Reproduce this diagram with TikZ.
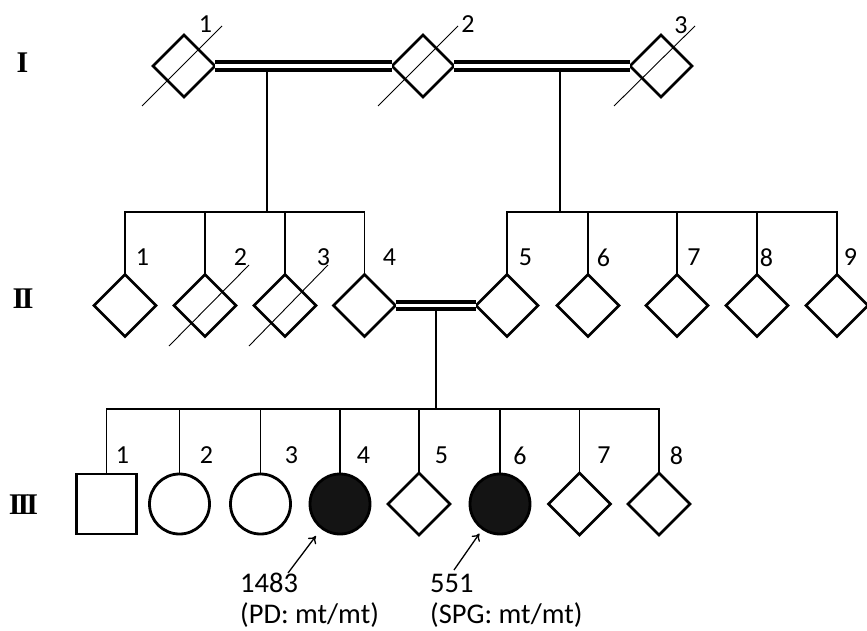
\documentclass[tikz,border=0pt]{standalone}
\usepackage{fontspec}
\setmainfont{Carlito}
\newfontfamily\romfont{Liberation Serif}
\usetikzlibrary{shapes.geometric,arrows.meta}
\begin{document}
\begin{tikzpicture}[x=1pt,y=-1pt,
 dia/.style={diamond,draw,line width=2.8pt,minimum width=62pt,minimum height=62pt,inner sep=0pt,outer sep=0pt,shape aspect=1},
 fem/.style={circle,draw,line width=2.8pt,minimum size=60pt,inner sep=0pt,outer sep=0pt},
 mal/.style={rectangle,draw,line width=2.6pt,minimum size=60pt,inner sep=0pt,outer sep=0pt},
 aff/.style={fill=black!92},
 conn/.style={line width=1.2pt},
 marr/.style={double,line width=4pt,double distance=3.5pt},
 slash/.style={line width=0.9pt},
 num/.style={font=\fontsize{26}{28}\selectfont,inner sep=0pt},
 gen/.style={font=\romfont\bfseries\fontsize{30}{32}\selectfont,inner sep=0pt},
 note/.style={font=\fontsize{28.5}{30}\selectfont,inner sep=0pt,anchor=base west},
 ptr/.style={line width=1.3pt,-{To[length=7pt,width=10pt]}}
]
\useasboundingbox (0,0) rectangle (867,631);

% generation labels
\node[gen] (gI) at (22.5,63) {I};
\node[gen] (gII) at (23,299) {I\kern-2.5pt I};
\node[gen] (gIII) at (23.5,505) {I\kern-3pt I\kern-3pt I};

% generation I
\node[dia] (i1) at (184,66) {};
\node[dia] (i2) at (423,66) {};
\node[dia] (i3) at (661,66) {};

% generation II
\node[dia] (ii1) at (125,305.5) {};
\node[dia] (ii2) at (205,305.5) {};
\node[dia] (ii3) at (285,305.5) {};
\node[dia] (ii4) at (364.5,305.5) {};
\node[dia] (ii5) at (507,305.5) {};
\node[dia] (ii6) at (588,305.5) {};
\node[dia] (ii7) at (677,305.5) {};
\node[dia] (ii8) at (757,305.5) {};
\node[dia] (ii9) at (837,305.5) {};

% generation III
\node[mal] (iii1) at (106.5,504) {};
\node[fem] (iii2) at (179.5,504) {};
\node[fem] (iii3) at (260.5,504) {};
\node[fem,aff] (iii4) at (340,504) {};
\node[dia] (iii5) at (419,504) {};
\node[fem,aff] (iii6) at (500,504) {};
\node[dia] (iii7) at (579.5,504) {};
\node[dia] (iii8) at (659,504) {};

% junction coordinates
\coordinate (m1) at (267,66);
\coordinate (j1) at (267,212);
\coordinate (m2) at (560,66);
\coordinate (j2) at (560,212);
\coordinate (m3) at (436,305.5);
\coordinate (j3) at (436,409);

% descent lines
\draw[conn] (m1) -- (j1);
\draw[conn] (m2) -- (j2);
\draw[conn] (m3) -- (j3);

% marriage lines
\draw[marr] (i1.east) -- (i2.west);
\draw[marr] (i2.east) -- (i3.west);
\draw[marr] (ii4.east) -- (ii5.west);

% sibship lines
\foreach \c in {ii1,ii2,ii3,ii4} \draw[conn] (j1) -| (\c.north);
\foreach \c in {ii5,ii6,ii7,ii8,ii9} \draw[conn] (j2) -| (\c.north);
\foreach \c in {iii1,iii2,iii3,iii4,iii5,iii6,iii7,iii8} \draw[conn] (j3) -| (\c.north);

% deceased slashes
\draw[slash] ([shift={(-42,40)}]i1.center) -- ([shift={(38,-40)}]i1.center);
\draw[slash] ([shift={(-45,40)}]i2.center) -- ([shift={(35,-40)}]i2.center);
\draw[slash] ([shift={(-47,40)}]i3.center) -- ([shift={(34,-40)}]i3.center);
\draw[slash] ([shift={(-36,40.5)}]ii2.center) -- ([shift={(44,-40.5)}]ii2.center);
\draw[slash] ([shift={(-36,40.5)}]ii3.center) -- ([shift={(43,-40.5)}]ii3.center);

% numbers
\node[num] (n-i1) at (205.5,24.5) {1};
\node[num] (n-i2) at (468,24.5) {2};
\node[num] (n-i3) at (681,25) {3};

\node[num] (n-ii1) at (142.5,257.5) {1};
\node[num] (n-ii2) at (240.5,257.5) {2};
\node[num] (n-ii3) at (323.5,257.5) {3};
\node[num] (n-ii4) at (389.5,257.5) {4};
\node[num] (n-ii5) at (525.5,257.5) {5};
\node[num] (n-ii6) at (603.5,257.5) {6};
\node[num] (n-ii7) at (694,257.5) {7};
\node[num] (n-ii8) at (766.5,257.5) {8};
\node[num] (n-ii9) at (850.5,257.5) {9};

\node[num] (n-iii1) at (122.5,455.5) {1};
\node[num] (n-iii2) at (206.5,455.5) {2};
\node[num] (n-iii3) at (291.5,455.5) {3};
\node[num] (n-iii4) at (363.5,455.5) {4};
\node[num] (n-iii5) at (441.5,455.5) {5};
\node[num] (n-iii6) at (520,455.5) {6};
\node[num] (n-iii7) at (604,455.5) {7};
\node[num] (n-iii8) at (676.5,455.5) {8};

% probands
\node[note] (p1a) at (240,592) {1483};
\node[note] (p1b) at (240,623) {(PD: mt/mt)};
\node[note] (p2a) at (430,592) {551};
\node[note] (p2b) at (430,623) {(SPG: mt/mt)};
\coordinate (t4) at (288,573);
\coordinate (t6) at (454,570);
\draw[ptr,shorten >=10pt] (t4) -- (iii4);
\draw[ptr,shorten >=6pt] (t6) -- (iii6);
\end{tikzpicture}
\end{document}
